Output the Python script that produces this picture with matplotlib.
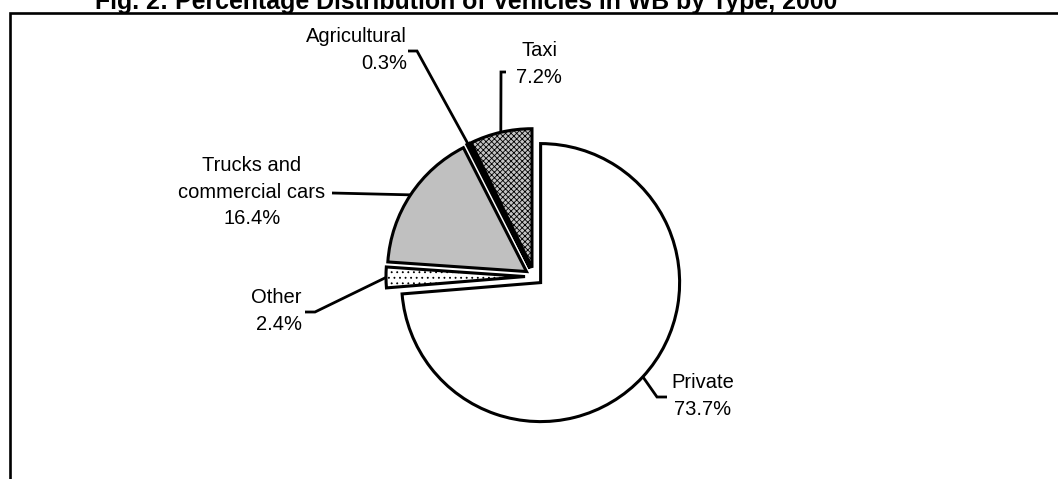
"""
Fig. 2 - Percentage distribution of vehicles in WB by type, 2000
Pie chart with exploded slices and leader-line labels
"""

import math
import matplotlib.pyplot as plt

plt.rcParams['font.family'] = ['Liberation Sans', 'DejaVu Sans']
plt.rcParams['hatch.linewidth'] = 0.6

# ===== DATA =====
types = ["Private", "Other", "Trucks and\ncommercial cars", "Agricultural", "Taxi"]
shares = [73.7, 2.4, 16.4, 0.3, 7.2]

title = "Fig. 2: Percentage Distribution of Vehicles in WB by Type, 2000"

# ===== STYLE =====
face_colors = ["white", "white", "#c0c0c0", "black", "#c4c4c4"]
hatches = [None, "...", None, None, "xxxxxx"]

W, H = 1058, 479  # figure size in pixels (axes use pixel units, y up)

fig = plt.figure(figsize=(W / 100, H / 100), dpi=100)
ax = fig.add_axes([0, 0, 1, 1])

wedges, _ = ax.pie(
    shares,
    startangle=90,
    counterclock=False,
    center=(534, H - 276.5),
    radius=139,
    explode=[9] * len(shares),
    colors=face_colors,
    wedgeprops=dict(edgecolor='black', linewidth=2.2, joinstyle='miter'),
)
for w, h in zip(wedges, hatches):
    if h:
        w.set_hatch(h)

ax.set_xlim(0, W)
ax.set_ylim(0, H)
ax.set_aspect('equal')
ax.axis('off')

# ===== LABELS (image coords: text pos, alignment, leader elbow, tick end) =====
label_layout = {
    "Private": ((703, 396), 'center', (657, 397), (667, 397)),
    "Other": ((302, 311), 'right', (315, 312), (305, 312)),
    "Trucks and\ncommercial cars": ((252, 192), 'center', (332, 193), (332, 193)),
    "Agricultural": ((407, 50), 'right', (417, 51), (408, 51)),
    "Taxi": ((539, 64), 'center', (501, 72), (506, 72)),
}

for w, name, val in zip(wedges, types, shares):
    (tx, ty), ha, (ex, ey), (kx, ky) = label_layout[name]
    # anchor on the arc, at the middle angle of the slice
    th = math.radians((w.theta1 + w.theta2) / 2)
    px = w.center[0] + w.r * math.cos(th)
    py = w.center[1] + w.r * math.sin(th)
    ax.plot([px, ex, kx], [py, H - ey, H - ky], color='black', lw=2.0,
            solid_joinstyle='miter', solid_capstyle='butt', zorder=3)
    ax.text(tx, H - ty, f"{name}\n{val}%", ha=ha, va='center', multialignment=ha,
            fontsize=14.5, linespacing=1.5, zorder=4)

# ===== TITLE (cut at the top like the original) =====
ax.text(95, H - 9, title, ha='left', va='baseline', fontsize=17.9, fontweight='bold')

# ===== FRAME (left and top borders only visible) =====
ax.plot([9.7, 9.7, W + 20], [-20, H - 12.8, H - 12.8], color='black', lw=1.9,
        solid_joinstyle='miter')

fig.savefig("out.png", dpi=100)
